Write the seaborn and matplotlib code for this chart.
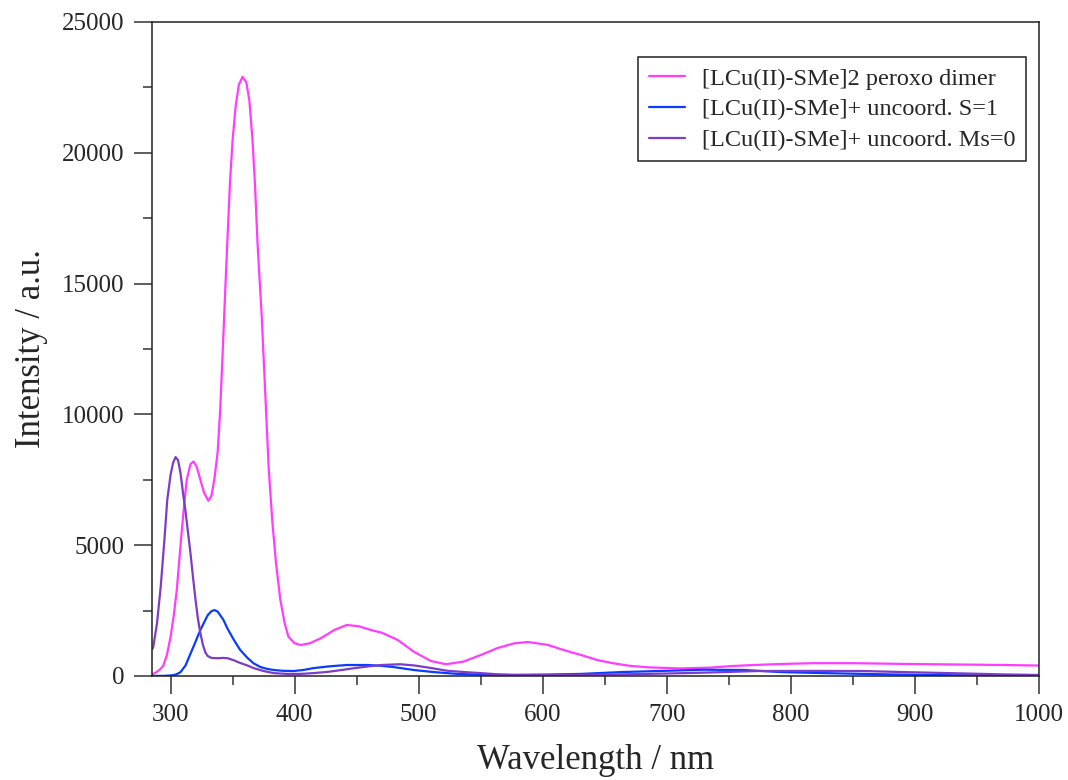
import numpy as np
import pandas as pd
import matplotlib
matplotlib.use("Agg")
import matplotlib.pyplot as plt
from matplotlib.ticker import MultipleLocator
import seaborn as sns

# ---------------- data ----------------
series_names = [
    "[LCu(II)-SMe]2 peroxo dimer",
    "[LCu(II)-SMe]+ uncoord. S=1",
    "[LCu(II)-SMe]+ uncoord. Ms=0",
]

dimer_wl = [285, 288, 291, 294, 297, 300, 302.5, 305, 308, 311, 313, 316, 318.5, 321, 324,
            327, 330.5, 333, 335.5, 338, 340, 342, 344, 346, 348, 350, 352.5, 355, 358,
            361, 363.5, 366, 368, 370, 373.5, 376.5, 379, 382, 385, 388.5, 392, 395, 400,
            405, 412, 421, 432, 442, 452, 462, 470, 483, 496, 510, 522, 536, 550, 563,
            577, 588, 604, 617, 631, 644, 657, 670, 685, 711, 735, 752, 770, 792, 818,
            850, 894, 935, 972, 1000]
dimer_int = [60, 130, 230, 380, 800, 1500, 2300, 3300, 5000, 6600, 7500, 8100, 8200, 8000, 7500,
             7000, 6700, 6900, 7600, 8600, 10200, 12400, 14700, 16900, 19000, 20500, 21800, 22600, 22900,
             22700, 22000, 20500, 18800, 16600, 13700, 10600, 8000, 5900, 4300, 2900, 2000, 1500, 1250,
             1185, 1250, 1440, 1760, 1950, 1900, 1750, 1660, 1380, 930, 570, 450, 550, 800, 1060,
             1250, 1300, 1190, 990, 800, 610, 485, 390, 330, 290, 320, 380, 420, 460, 490,
             490, 460, 440, 420, 400]

s1_wl = [285, 295, 302, 305, 308, 312, 316, 320, 324, 327, 330, 333, 335.5, 338, 342.5,
         346, 351, 356, 362, 367, 372.5, 378, 383, 390, 399, 407, 415, 428, 442, 459,
         470, 480, 496, 512, 531, 550, 577, 605, 631, 663, 700, 730, 762, 792, 827,
         859, 881, 929, 1000]
s1_int = [0, 5, 30, 70, 150, 400, 850, 1300, 1760, 2050, 2330, 2480, 2520, 2460, 2150,
          1800, 1380, 1000, 690, 480, 340, 270, 230, 200, 190, 230, 300, 370, 420, 420,
          390, 340, 230, 150, 80, 50, 40, 55, 80, 150, 200, 240, 230, 150, 110,
          80, 60, 30, 10]

ms0_wl = [285.5, 286, 289, 292, 295, 297.3, 300, 302, 304, 306, 308, 310, 312, 314, 316,
          318, 320, 322, 324, 326, 328, 330, 333, 338, 342, 346, 351, 356, 362, 367,
          375, 383, 394, 405, 415, 427, 438, 448, 460, 470, 485, 497, 508, 523, 537,
          550, 565, 577, 605, 631, 660, 685, 719, 746, 773, 820, 859, 891, 923, 950,
          972, 1000]
ms0_int = [1050, 1110, 2000, 3400, 5200, 6730, 7700, 8150, 8370, 8250, 7750, 7000, 6300, 5500, 4700,
           3800, 2950, 2200, 1640, 1200, 900, 760, 690, 680, 690, 680, 600, 500, 400, 300,
           190, 110, 80, 80, 110, 160, 230, 300, 370, 420, 450, 400, 320, 200, 150,
           110, 60, 40, 40, 45, 60, 80, 115, 150, 190, 195, 190, 150, 115, 85,
           60, 40]

x_ticks = [300, 400, 500, 600, 700, 800, 900, 1000]
y_ticks = [0, 5000, 10000, 15000, 20000, 25000]

colors = ["#ff3cff", "#0a3cff", "#7d3cc8"]

# ---------------- build long table ----------------
frames = []
for name, wl, it in zip(series_names, [dimer_wl, s1_wl, ms0_wl], [dimer_int, s1_int, ms0_int]):
    frames.append(pd.DataFrame({"Wavelength": wl, "Intensity": it, "Species": name}))
df = pd.concat(frames, ignore_index=True)

# ---------------- plotting ----------------
sns.set_style("white")
plt.rcParams["font.family"] = ["Liberation Serif", "DejaVu Serif"]

fig = plt.figure(figsize=(10.68, 7.80), dpi=100)
ax = fig.add_axes([152 / 1068, 1 - 676 / 780, (1039 - 152) / 1068, (676 - 22) / 780])

sns.lineplot(data=df, x="Wavelength", y="Intensity", hue="Species",
             hue_order=series_names, palette=colors, sort=False,
             estimator=None, linewidth=1.6, ax=ax)

ax.set_xlim(285, 1000)
ax.set_ylim(0, 25000)
ax.set_xticks(x_ticks)
ax.set_yticks(y_ticks)
ax.xaxis.set_minor_locator(MultipleLocator(50))
ax.yaxis.set_minor_locator(MultipleLocator(2500))

for sp in ax.spines.values():
    sp.set_visible(True)
    sp.set_color("#222222")
    sp.set_linewidth(1.1)

ax.tick_params(which="major", direction="out", length=13, width=1.1, color="#333333",
               labelsize=18, pad=7, bottom=True, left=True)
ax.tick_params(which="minor", direction="out", length=6.5, width=1.1, color="#333333",
               bottom=True, left=True)

ax.set_xlabel("Wavelength / nm", fontsize=25, labelpad=13)
ax.set_ylabel("Intensity / a.u.", fontsize=25, labelpad=10)

handles, labels = ax.get_legend_handles_labels()
leg = ax.legend(handles, labels, loc="upper right", bbox_to_anchor=(0.985, 0.946),
                borderaxespad=0, fontsize=17.5, frameon=True, fancybox=False,
                edgecolor="#222222", framealpha=1, handlelength=1.5,
                handletextpad=0.7, labelspacing=0.36, borderpad=0.42)
leg.get_frame().set_linewidth(1.1)

fig.savefig("out.png", dpi=100)
